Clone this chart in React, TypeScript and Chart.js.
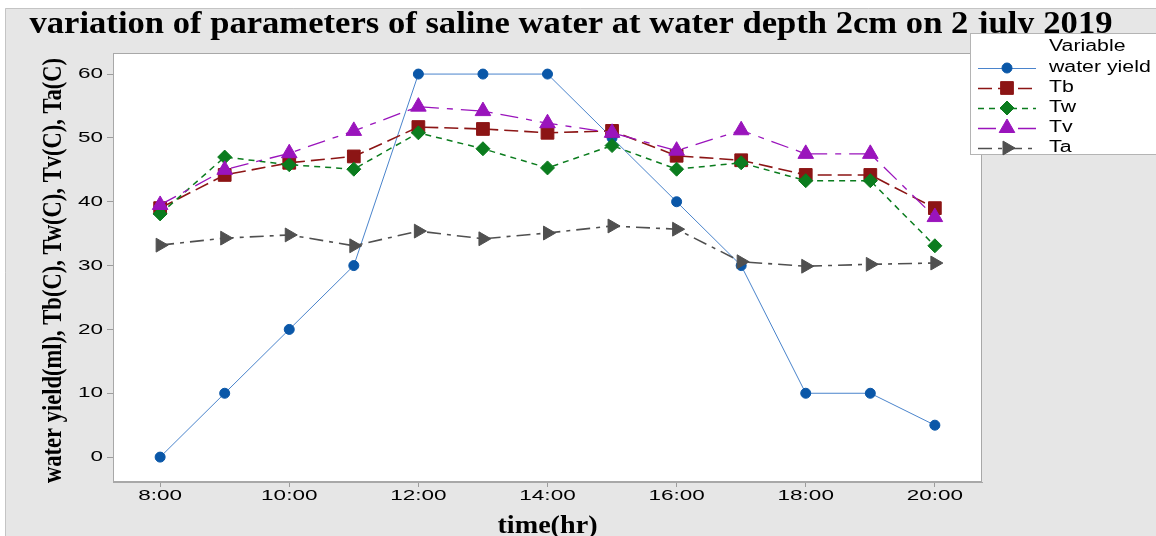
import React, { useEffect, useRef } from 'react';
import { Chart, registerables } from 'chart.js';
import { drawPoint } from 'chart.js/helpers';

Chart.register(...registerables);

// ---------- data ----------
const hours = [8, 9, 10, 11, 12, 13, 14, 15, 16, 17, 18, 19, 20];
const waterYield = [0, 10, 20, 30, 60, 60, 60, 50, 40, 30, 10, 10, 5];
const tb = [39.0, 44.2, 46.1, 47.1, 51.7, 51.4, 50.8, 51.1, 47.2, 46.5, 44.2, 44.2, 39.0];
const tw = [38.1, 47.0, 45.8, 45.1, 50.8, 48.3, 45.3, 48.8, 45.1, 46.1, 43.3, 43.3, 33.1];
const tv = [39.5, 45.0, 47.6, 51.1, 54.9, 54.2, 52.3, 50.8, 48.0, 51.2, 47.5, 47.5, 37.6];
const ta = [33.2, 34.3, 34.8, 33.1, 35.4, 34.2, 35.1, 36.2, 35.7, 30.6, 29.9, 30.2, 30.4];
const xTickHours = [8, 10, 12, 14, 16, 18, 20];
const xTickLabels = ['8:00', '10:00', '12:00', '14:00', '16:00', '18:00', '20:00'];
const yTickValues = [0, 10, 20, 30, 40, 50, 60];
const yTickLabels = ['0', '10', '20', '30', '40', '50', '60'];
const seriesNames = ['water yield', 'Tb', 'Tw', 'Tv', 'Ta'];
const seriesValues = [waterYield, tb, tw, tv, ta];

const titleText = 'variation of parameters of saline water at water depth 2cm on 2 july 2019';
const xTitleText = 'time(hr)';
const yTitleText = 'water yield(ml), Tb(C), Tw(C), Tv(C), Ta(C)';
const legendHeader = 'Variable';

// ---------- styles ----------
const seriesStyles = [
  { color: '#0a57a8', line: '#4a84cc', width: 1, dash: [] as number[], point: 'circle', radius: 5, rotation: 0 },
  { color: '#8c1515', line: '#8c1515', width: 1.6, dash: [14, 6], point: 'rect', radius: 9, rotation: 0 },
  { color: '#0b7c1e', line: '#0b7c1e', width: 1.5, dash: [6, 5], point: 'rectRot', radius: 7, rotation: 0 },
  { color: '#9a14bc', line: '#9a14bc', width: 1.3, dash: [18, 8, 6, 8], point: 'triangle', radius: 9, rotation: 0 },
  { color: '#505050', line: '#505050', width: 1.6, dash: [14, 6, 4, 6], point: 'triangle', radius: 8, rotation: 90 },
];

type Align = 'left' | 'center' | 'right';

function drawStretched(
  ctx: CanvasRenderingContext2D,
  text: string,
  x: number,
  y: number,
  font: string,
  sx: number,
  align: Align,
  baseline: CanvasTextBaseline,
  rotate = 0,
) {
  ctx.save();
  ctx.translate(x, y);
  if (rotate) ctx.rotate(rotate);
  ctx.scale(sx, 1);
  ctx.font = font;
  ctx.textAlign = align;
  ctx.textBaseline = baseline;
  ctx.fillStyle = '#000';
  ctx.fillText(text, 0, 0);
  ctx.restore();
}

function fitScale(ctx: CanvasRenderingContext2D, text: string, font: string, target: number) {
  ctx.save();
  ctx.font = font;
  const w = ctx.measureText(text).width;
  ctx.restore();
  return w > 0 ? target / w : 1;
}

const decorPlugin = {
  id: 'decor',
  beforeDraw(chart: any) {
    const { ctx, width, height, chartArea: a } = chart;
    ctx.save();
    ctx.fillStyle = '#e6e6e6';
    ctx.fillRect(0, 0, width, height);
    ctx.strokeStyle = '#c4c4c4';
    ctx.lineWidth = 1;
    ctx.beginPath();
    ctx.moveTo(0.5, height);
    ctx.lineTo(0.5, 0.5);
    ctx.lineTo(width, 0.5);
    ctx.stroke();
    ctx.fillStyle = '#ffffff';
    ctx.fillRect(a.left, a.top, a.right - a.left, a.bottom - a.top);
    ctx.restore();
  },
  afterDraw(chart: any) {
    const { ctx, chartArea: a } = chart;
    const xs = chart.scales.x;
    const ys = chart.scales.y;
    ctx.save();
    // frame
    ctx.strokeStyle = '#a8a8a8';
    ctx.lineWidth = 1;
    ctx.setLineDash([]);
    ctx.strokeRect(Math.round(a.left) + 0.5, Math.round(a.top) + 0.5, Math.round(a.right - a.left) - 1, Math.round(a.bottom - a.top) - 1);

    // tick labels
    const tickFont = '15px "Liberation Sans"';
    yTickValues.forEach((v, i) => {
      drawStretched(ctx, yTickLabels[i], a.left - 10, ys.getPixelForValue(v), tickFont, 1.5, 'right', 'middle');
    });
    xTickHours.forEach((h, i) => {
      drawStretched(ctx, xTickLabels[i], xs.getPixelForValue(h), a.bottom + 14, tickFont, 1.5, 'center', 'middle');
    });

    // main title
    const tFont = 'bold 31px "Liberation Serif"';
    drawStretched(ctx, titleText, 566, 25, tFont, fitScale(ctx, titleText, tFont, 1083), 'center', 'alphabetic');
    // x title
    const xtFont = 'bold 25px "Liberation Serif"';
    drawStretched(ctx, xTitleText, (a.left + a.right) / 2, 525, xtFont, fitScale(ctx, xTitleText, xtFont, 100), 'center', 'alphabetic');
    // y title
    const ytFont = 'bold 28px "Liberation Serif"';
    drawStretched(ctx, yTitleText, 56, (a.top + a.bottom) / 2 + 3, ytFont, fitScale(ctx, yTitleText, ytFont, 425), 'center', 'alphabetic', -Math.PI / 2);

    // legend
    const lx = 965.5;
    const ly = 25.5;
    ctx.fillStyle = '#ffffff';
    ctx.fillRect(lx, ly, 200, 121);
    ctx.strokeStyle = '#b4b4b4';
    ctx.strokeRect(lx, ly, 200, 121);
    const lFont = '16px "Liberation Sans"';
    drawStretched(ctx, legendHeader, 1044, 39, lFont, 1.33, 'left', 'middle');
    seriesNames.forEach((name, i) => {
      const st = seriesStyles[i];
      const y = 60 + i * 20;
      ctx.save();
      ctx.strokeStyle = st.line;
      ctx.lineWidth = st.width;
      ctx.setLineDash(st.dash);
      ctx.beginPath();
      ctx.moveTo(973, y + 0.5);
      ctx.lineTo(1031, y + 0.5);
      ctx.stroke();
      ctx.setLineDash([]);
      ctx.fillStyle = st.color;
      ctx.strokeStyle = st.color;
      ctx.lineWidth = 1;
      drawPoint(ctx, { pointStyle: st.point as any, radius: st.radius, rotation: st.rotation, borderWidth: 1 } as any, 1002, y);
      ctx.restore();
      drawStretched(ctx, name, 1044, y, lFont, 1.33, 'left', 'middle');
    });
    ctx.restore();
  },
};

export default function App() {
  const ref = useRef<HTMLCanvasElement>(null);
  useEffect(() => {
    document.documentElement.style.overflow = 'hidden';
    if (!ref.current) return;
    const datasets = seriesNames.map((name, i) => {
      const st = seriesStyles[i];
      return {
        label: name,
        data: hours.map((h, j) => ({ x: h, y: seriesValues[i][j] })),
        borderColor: st.line,
        backgroundColor: st.color,
        borderWidth: st.width,
        borderDash: st.dash,
        pointStyle: st.point as any,
        pointRadius: st.radius,
        pointRotation: st.rotation,
        pointBackgroundColor: st.color,
        pointBorderColor: st.color,
        pointBorderWidth: 1,
        tension: 0,
        order: seriesNames.length - i,
      };
    });
    const chart = new Chart(ref.current, {
      type: 'line',
      data: { datasets },
      options: {
        animation: false,
        responsive: false,
        devicePixelRatio: 1,
        layout: { padding: { top: 45, right: 174, bottom: 0, left: 0 } },
        plugins: { legend: { display: false }, tooltip: { enabled: false }, title: { display: false } },
        scales: {
          x: {
            type: 'linear',
            min: 7.27,
            max: 20.73,
            afterBuildTicks: (s: any) => {
              s.ticks = xTickHours.map((v) => ({ value: v }));
            },
            afterFit: (s: any) => {
              s.height = 54;
            },
            ticks: { display: false },
            grid: { drawOnChartArea: false, color: '#9c9c9c', tickLength: 5 },
            border: { color: '#a8a8a8' },
          },
          y: {
            type: 'linear',
            min: -3.9,
            max: 63.3,
            afterBuildTicks: (s: any) => {
              s.ticks = yTickValues.map((v) => ({ value: v }));
            },
            afterFit: (s: any) => {
              s.width = 108;
            },
            ticks: { display: false },
            grid: { drawOnChartArea: false, color: '#9c9c9c', tickLength: 6 },
            border: { color: '#a8a8a8' },
          },
        },
      },
      plugins: [decorPlugin],
    });
    return () => chart.destroy();
  }, []);
  return (
    <div style={{ position: 'absolute', left: 5, top: 8, width: 1151, height: 528 }}>
      <canvas ref={ref} width={1151} height={528} style={{ display: 'block', width: 1151, height: 528 }} />
    </div>
  );
}
